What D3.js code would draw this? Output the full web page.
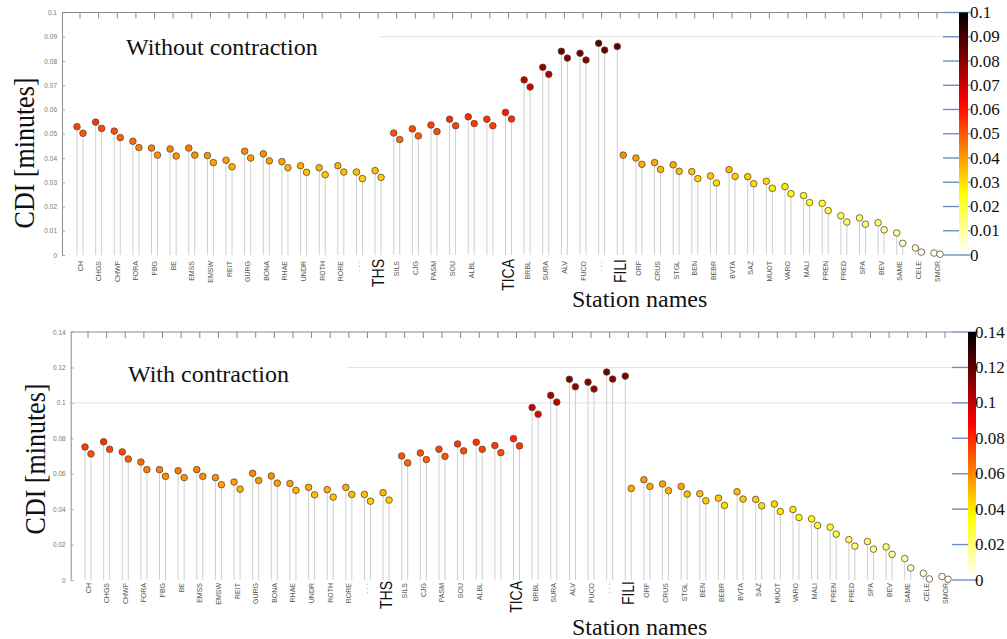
<!DOCTYPE html>
<html>
<head>
<meta charset="utf-8">
<script src="https://cdn.jsdelivr.net/npm/d3@7"></script>
<style>
  body { margin: 0; background: #fff; }
  svg { display: block; }
</style>
</head>
<body>
<script>
/*******************************************************************************************/
// Data

var stations = ['CH','CHGS','CHWF','FORA','FBG','BE','EMSS','EMSW','REIT','GURG','BONA','RHAE','UNDR','ROTH','RORE','· · ·',
  'THS','SILS','CJG','PASM','SOU','ALBL','','TICA','BRBL','SURA','ALV','FUCO','· · ·','FILI','ORF','CRUS','STGL','BEN','BEBR',
  'BVTA','SAZ','MUOT','VARO','MALI','PREN','PRED','SPA','BEV','SAME','CELE','SMOR'];
var bigStations = ['THS','TICA','FILI'];

// without contraction: first and second point of each station
var noContrA = [0.0529,0.0548,0.0511,0.0469,0.0441,0.0437,0.0441,0.0410,0.0391,0.0428,0.0417,0.0385,0.0368,0.0360,0.0368,0.0342,
  0.0348,0.0503,0.0520,0.0536,0.0560,0.0570,0.0560,0.0588,0.0722,0.0774,0.0840,0.0832,0.0873,0.0860,0.0400,0.0381,0.0372,0.0344,
  0.0326,0.0352,0.0323,0.0304,0.0282,0.0245,0.0213,0.0162,0.0153,0.0133,0.0091,0.0029,0.0008];
var noContrB = [0.0502,0.0522,0.0484,0.0443,0.0412,0.0408,0.0412,0.0381,0.0364,0.0400,0.0388,0.0360,0.0341,0.0331,0.0342,0.0315,
  0.0320,0.0476,0.0491,0.0509,0.0533,0.0542,0.0533,0.0561,0.0693,0.0745,0.0812,0.0804,0.0845,0.0412,0.0374,0.0353,0.0345,0.0315,
  0.0297,0.0324,0.0294,0.0275,0.0253,0.0216,0.0183,0.0136,0.0127,0.0104,0.0048,0.0012,0.0003];

// with contraction
var contrA = [0.0751,0.0780,0.0723,0.0666,0.0623,0.0617,0.0623,0.0578,0.0553,0.0602,0.0587,0.0545,0.0523,0.0510,0.0523,0.0483,
  0.0493,0.0700,0.0717,0.0738,0.0768,0.0778,0.0759,0.0798,0.0974,0.1042,0.1133,0.1117,0.1174,0.1151,0.0566,0.0542,0.0528,0.0487,
  0.0462,0.0498,0.0455,0.0429,0.0398,0.0345,0.0298,0.0228,0.0217,0.0187,0.0121,0.0038,0.0020];
var contrB = [0.0712,0.0738,0.0683,0.0623,0.0585,0.0578,0.0585,0.0538,0.0513,0.0562,0.0547,0.0506,0.0481,0.0468,0.0483,0.0445,
  0.0451,0.0661,0.0680,0.0698,0.0729,0.0738,0.0719,0.0757,0.0936,0.1004,0.1091,0.1078,0.1134,0.0517,0.0528,0.0504,0.0485,0.0447,
  0.0421,0.0457,0.0419,0.0387,0.0353,0.0308,0.0259,0.0191,0.0174,0.0145,0.0068,0.0006,0.0004];

var ticksTop = [0,0.01,0.02,0.03,0.04,0.05,0.06,0.07,0.08,0.09,0.1];
var ticksBottom = [0,0.02,0.04,0.06,0.08,0.1,0.12,0.14];

/*******************************************************************************************/
// Helpers

var svg = d3.select('body').append('svg').attr('width', 1007).attr('height', 639);
var fmt = d3.format('.2~f');
var serif = '"Liberation Serif", "DejaVu Serif", serif';
var sans = '"Liberation Sans", Arial, sans-serif';

// flipped matlab "hot": white -> yellow -> red -> black
function hotR(t){
  var s = 1 - Math.max(0, Math.min(1, t));
  var r = Math.min(1, s/0.375),
      g = Math.max(0, Math.min(1, (s-0.375)/0.375)),
      b = Math.max(0, Math.min(1, (s-0.75)/0.25));
  return d3.rgb(r*255, g*255, b*255).formatHex();
}

/*******************************************************************************************/
// Panel

function drawPanel(p, valsA, valsB){
  var g = svg.append('g');
  var y = d3.scaleLinear().domain([0, p.max]).range([p.y0, p.y1]);
  var x = d3.scaleLinear().domain([0, stations.length-1]).range([p.x0, p.x1]);
  var dx = 6;

  p.grid.forEach(function(gr){
    g.append('line').attr('x1', gr[1]).attr('x2', p.frameRight).attr('y1', y(gr[0])).attr('y2', y(gr[0]))
      .style('stroke', '#e4e4e4').style('stroke-width', 1);
  });

  // left axis
  var ax = g.append('g').attr('transform', 'translate(' + p.axisX + ',0)')
    .call(d3.axisLeft(y).tickValues(p.ticks).tickFormat(fmt).tickSizeInner(-3).tickSizeOuter(0).tickPadding(5));
  ax.select('.domain').style('stroke', '#8a8a8a');
  ax.selectAll('.tick line').style('stroke', '#aaa');
  ax.selectAll('.tick text').style('font-family', sans).style('font-size', '6.5px').style('fill', '#777');

  // top frame with ticks
  g.append('line').attr('x1', p.axisX).attr('x2', p.frameRight).attr('y1', y(p.max)).attr('y2', y(p.max))
    .style('stroke', '#8a8a8a');
  g.selectAll('.ttick').data(stations).enter().append('line')
    .attr('x1', function(d, i){ return x(i) + 3; }).attr('x2', function(d, i){ return x(i) + 3; })
    .attr('y1', y(p.max)).attr('y2', y(p.max) + 6)
    .style('stroke', '#888').style('stroke-width', 1);

  // stems
  var pts = [];
  stations.forEach(function(s, i){
    pts.push({ x: x(i), v: valsA[i] });
    pts.push({ x: x(i) + dx, v: valsB[i] });
  });
  g.selectAll('.stem').data(pts).enter().append('line')
    .attr('x1', function(d){ return d.x; }).attr('x2', function(d){ return d.x; })
    .attr('y1', function(d){ return y(d.v); }).attr('y2', y(0))
    .style('stroke', '#cfcfcf').style('stroke-width', 1);

  // dots
  g.selectAll('.dot').data(pts).enter().append('circle')
    .attr('cx', function(d){ return d.x; }).attr('cy', function(d){ return y(d.v); }).attr('r', 3.3)
    .style('fill', function(d){ return hotR(d.v / p.max); })
    .style('stroke', '#5a4a3a').style('stroke-width', 0.8);

  // station labels
  g.selectAll('.slabel').data(stations).enter().append('text')
    .attr('transform', function(d, i){
      var big = bigStations.indexOf(d) >= 0;
      return 'translate(' + (x(i) + 3) + ',' + (p.labelY + (big ? -2 : 0)) + ') rotate(-90)' + (big ? ' scale(1,1.2)' : '');
    })
    .attr('text-anchor', 'end').attr('dominant-baseline', 'central')
    .style('font-family', sans)
    .style('font-size', function(d){ return bigStations.indexOf(d) >= 0 ? '14px' : '7px'; })
    .style('fill', function(d){ return bigStations.indexOf(d) >= 0 ? '#111' : '#555'; })
    .text(function(d){ return d; });

  // titles
  g.append('text').attr('x', p.titleX).attr('y', p.titleY)
    .style('font-family', serif).style('font-size', '24px').style('fill', '#111').text(p.title);
  g.append('text').attr('transform', 'translate(' + p.yLabelX + ',' + p.yLabelY + ') rotate(-90) scale(1,1.15)')
    .attr('text-anchor', 'middle')
    .style('font-family', serif).style('font-size', '26px').style('fill', '#111').text('CDI [minutes]');
  g.append('text').attr('x', 572).attr('y', p.xLabelY)
    .style('font-family', serif).style('font-size', '24px').style('fill', '#111').text('Station names');

  // colorbar
  var gid = 'cb' + p.id;
  var grad = svg.append('defs').append('linearGradient').attr('id', gid)
    .attr('x1', 0).attr('y1', 1).attr('x2', 0).attr('y2', 0);
  d3.range(0, 1.0001, 0.05).forEach(function(t){
    grad.append('stop').attr('offset', t).attr('stop-color', hotR(t));
  });
  g.selectAll('.cbtick').data(p.ticks).enter().append('line')
    .attr('x1', p.cbX - 16).attr('x2', p.cbX + p.cbW + 2)
    .attr('y1', function(d){ return y(d); }).attr('y2', function(d){ return y(d); })
    .style('stroke', '#6b8fc0').style('stroke-width', 1.4);
  g.append('rect').attr('x', p.cbX).attr('y', y(p.max)).attr('width', p.cbW).attr('height', y(0) - y(p.max) - 2)
    .style('fill', 'url(#' + gid + ')');
  g.selectAll('.cblabel').data(p.ticks).enter().append('text')
    .attr('x', p.cbLabelX).attr('y', function(d){ return y(d); })
    .attr('dominant-baseline', 'central')
    .style('font-family', serif).style('font-size', '17px').style('fill', '#111')
    .text(function(d){ return fmt(d); });
}

/*******************************************************************************************/

drawPanel({ id: 1, axisX: 62, y0: 255, y1: 12.5, max: 0.1, ticks: ticksTop, x0: 77, x1: 934, frameRight: 946,
  grid: [[0.09, 379]], labelY: 261, title: 'Without contraction', titleX: 126, titleY: 55,
  yLabelX: 34, yLabelY: 153, xLabelY: 307, cbX: 959, cbW: 9, cbLabelX: 970 }, noContrA, noContrB);

drawPanel({ id: 2, axisX: 70.7, y0: 580, y1: 332, max: 0.14, ticks: ticksBottom, x0: 85, x1: 942, frameRight: 952,
  grid: [[0.12, 347], [0.1, 72]], labelY: 583, title: 'With contraction', titleX: 128, titleY: 382,
  yLabelX: 45, yLabelY: 459, xLabelY: 635, cbX: 968, cbW: 8, cbLabelX: 975 }, contrA, contrB);
</script>
</body>
</html>
